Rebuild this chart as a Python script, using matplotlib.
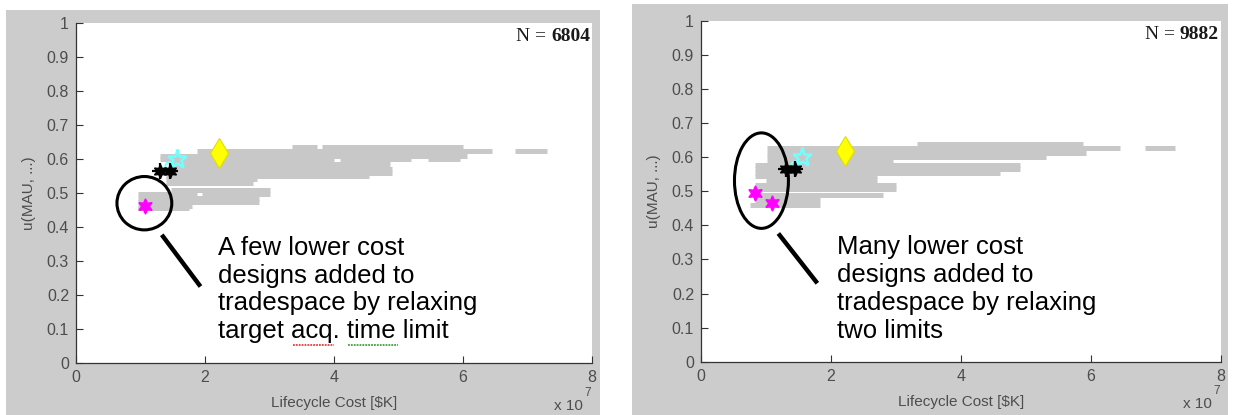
import matplotlib.pyplot as plt
from matplotlib.patches import Rectangle, Ellipse

plt.rcParams['font.family'] = ['Liberation Sans', 'DejaVu Sans']

# ---- data (x in units of 1e7 $K, u = utility) ----
# gray tradespace bands: (u, x_start, x_end)
left_band_u = [0.634, 0.634, 0.623, 0.623, 0.61, 0.60, 0.60, 0.60, 0.586, 0.572, 0.56,
               0.55, 0.54, 0.53, 0.51, 0.498, 0.498, 0.484, 0.473, 0.463, 0.455]
left_band_x0 = [3.35, 3.81, 1.87, 6.80, 1.30, 1.30, 4.10, 5.46, 1.48, 1.48, 1.48,
                1.40, 1.40, 1.40, 1.48, 0.96, 1.95, 0.96, 0.96, 0.96, 0.96]
left_band_x1 = [3.74, 6.00, 6.45, 7.30, 6.06, 4.00, 5.20, 5.95, 4.87, 4.90, 4.90,
                4.55, 2.80, 2.75, 3.00, 1.87, 3.00, 2.84, 2.84, 1.80, 1.75]

right_band_u = [0.638, 0.627, 0.627, 0.613, 0.601, 0.586, 0.577, 0.565, 0.554, 0.545,
                0.533, 0.518, 0.506, 0.489, 0.474, 0.46]
right_band_x0 = [3.32, 1.01, 6.83, 1.01, 1.01, 1.01, 0.83, 0.83, 0.83, 0.83,
                 1.00, 0.83, 0.83, 0.83, 0.83, 0.75]
right_band_x1 = [5.88, 6.45, 7.29, 5.93, 5.30, 2.95, 4.90, 4.90, 4.60, 2.70,
                 2.70, 3.00, 3.00, 2.80, 1.83, 1.83]

# highlighted designs
left_magenta_x, left_magenta_u = [1.07], [0.463]
right_magenta_x, right_magenta_u = [0.83, 1.09], [0.495, 0.465]
black_x, black_u = [1.30, 1.45], [0.565, 0.565]
cyan_x, cyan_u = [1.56], [0.601]
cyan2_x, cyan2_u = [1.44], [0.578]
yellow_x, yellow_u = [2.22], [0.618]

left_n, right_n = "6804", "9882"
left_note = "A few lower cost\ndesigns added to\ntradespace by relaxing\ntarget acq. time limit"
right_note = "Many lower cost\ndesigns added to\ntradespace by relaxing\ntwo limits"

# annotation geometry
left_ellipse = (1.06, 0.47, 0.85, 0.157)
right_ellipse = (0.93, 0.531, 0.83, 0.28)
left_pointer = ([1.33, 1.93], [0.377, 0.225])
right_pointer = ([1.19, 1.79], [0.376, 0.23])
left_note_pos = (2.2, 0.374)
right_note_pos = (2.09, 0.371)
# spell-check squiggles under "acq." (red) and "time" (green)
squiggles = [((3.36, 4.0), 0.053, '#e04040'), ((4.22, 4.99), 0.053, '#40a040')]

W, H = 1233, 415
fig = plt.figure(figsize=(W / 100, H / 100), dpi=100)
fig.patch.set_facecolor('white')

# gray figure panels (pixels: x0, y_top, x1, y_bottom)
for x0, y0, x1, y1 in [(6, 10, 600, 415), (632, 4, 1228, 415)]:
    fig.patches.append(Rectangle((x0 / W, 1 - y1 / H), (x1 - x0) / W, (y1 - y0) / H,
                                 transform=fig.transFigure, facecolor='#cccccc',
                                 edgecolor='none', zorder=-5))

tick_col = '#4d4d4d'


def panel(rect, bu, bx0, bx1, mag_x, mag_u, ell, ptr, note, note_pos, n_txt):
    ax = fig.add_axes(rect)
    ax.set_facecolor('white')
    ax.hlines(bu, bx0, bx1, colors='#c8c8c8', linewidth=3.6, capstyle='butt', zorder=2)
    ax.plot(yellow_x, yellow_u, 'd', color='#ffff00', mec='#dede00', ms=15, mew=0.8, zorder=4)
    ax.plot(cyan2_x, cyan2_u, 'o', mfc='none', mec='#7fffff', ms=6, mew=1.5, zorder=4)
    ax.plot(cyan_x, cyan_u, '*', mfc='none', mec='#70ffff', ms=14, mew=1.8, zorder=4)
    ax.plot(black_x, black_u, marker=(6, 1, 0), ls='none', color='black', ms=10, zorder=5)
    ax.plot(black_x, black_u, '+', color='black', ms=12, mew=1.6, zorder=5)
    ax.plot(mag_x, mag_u, marker=(6, 1, 0), ls='none', color='#ff00ff', ms=11, zorder=5)

    ax.add_patch(Ellipse(ell[:2], ell[2], ell[3], fill=False, edgecolor='black',
                         linewidth=2.2, zorder=6))
    ax.plot(ptr[0], ptr[1], color='black', linewidth=3.2, solid_capstyle='butt', zorder=6)
    ax.text(note_pos[0], note_pos[1], note, fontsize=18.5, va='top', ha='left',
            linespacing=1.2, color='black', zorder=7)

    nt = ax.text(7.97, 0.96, n_txt, fontsize=14, fontweight='bold', ha='right', va='center',
                 family='Liberation Serif', color='#1a1a1a')
    ax.annotate("N = ", xy=(0, 0.5), xycoords=nt, ha='right', va='center', fontsize=14,
                family='Liberation Serif', color='#1a1a1a')

    ax.set_xlim(0, 8)
    ax.set_ylim(0, 1)
    ax.set_xticks([0, 2, 4, 6, 8])
    ax.set_yticks([i / 10 for i in range(11)])
    ax.set_yticklabels(['0'] + ['%.1f' % (i / 10) for i in range(1, 10)] + ['1'])
    ax.tick_params(direction='in', length=5, width=0.8, colors='#333333',
                   labelcolor=tick_col, labelsize=11.5, pad=5)
    for s in ['top', 'right']:
        ax.spines[s].set_visible(False)
    for s in ['left', 'bottom']:
        ax.spines[s].set_color('#333333')
        ax.spines[s].set_linewidth(0.9)
    ax.set_xlabel("Lifecycle Cost [$K]", fontsize=11, color=tick_col, labelpad=8)
    ax.set_ylabel("u(MAU, ...)", fontsize=11, color=tick_col, labelpad=8)
    ax.text(0.955, -0.125, "x 10", transform=ax.transAxes, fontsize=11, color=tick_col,
            ha='center', va='center')
    ax.text(0.992, -0.087, "7", transform=ax.transAxes, fontsize=8.5, color=tick_col,
            ha='center', va='center')
    return ax


ax1 = panel([76 / W, 1 - 363 / H, 516 / W, 340 / H], left_band_u, left_band_x0, left_band_x1,
            left_magenta_x, left_magenta_u, left_ellipse, left_pointer, left_note,
            left_note_pos, left_n)
for xs, yy, col in squiggles:
    ax1.plot(xs, [yy, yy], color=col, linewidth=1.3, linestyle=(0, (1, 0.6)), zorder=7)

panel([701 / W, 1 - 361.7 / H, 520 / W, 341 / H], right_band_u, right_band_x0, right_band_x1,
      right_magenta_x, right_magenta_u, right_ellipse, right_pointer, right_note,
      right_note_pos, right_n)

fig.savefig("out.png", dpi=100)
